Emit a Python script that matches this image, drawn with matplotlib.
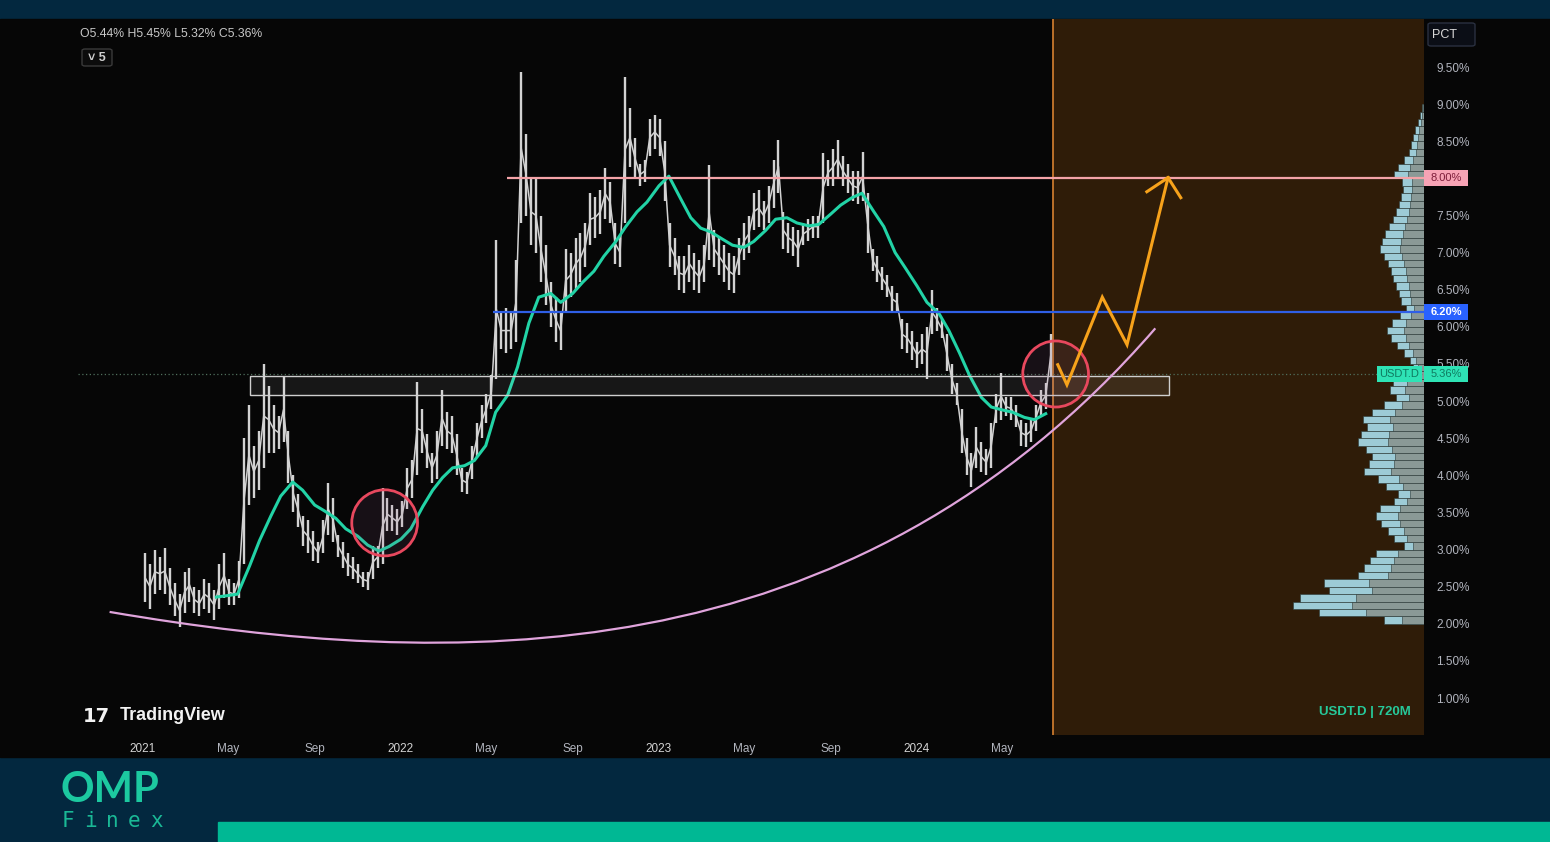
import matplotlib
matplotlib.use("Agg")
import matplotlib.pyplot as plt
import matplotlib.dates as mdates
import matplotlib.transforms as mtransforms
from matplotlib.patches import Rectangle, Ellipse, FancyBboxPatch, PathPatch
from matplotlib.path import Path
import numpy as np
import pandas as pd

plt.rcParams["font.family"] = ["Liberation Sans Narrow", "Liberation Sans", "DejaVu Sans"]

W, H = 1550, 842


def fx(x):
    return x / W


def fy(y):
    return 1 - y / H


# USDT.D weekly high / low (%), one bar per week from 2021-01-04
week_start = "2021-01-04"
week_high = [
    2.95, 2.80, 3.00, 2.90, 3.02, 2.75, 2.55, 2.40, 2.70, 2.75,
    2.50, 2.45, 2.60, 2.55, 2.45, 2.80, 2.95, 2.60, 2.55, 2.85,
    4.50, 4.95, 4.40, 4.60, 5.50, 5.20, 4.95, 4.80, 5.32, 4.60,
    4.00, 3.75, 3.45, 3.40, 3.25, 3.10, 3.40, 3.90, 3.70, 3.20,
    3.10, 2.95, 2.90, 2.80, 2.70, 2.70, 3.05, 3.05, 3.83, 3.70,
    3.60, 3.55, 3.65, 4.10, 4.20, 5.26, 4.90, 4.55, 4.30, 4.60,
    5.15, 4.85, 4.80, 4.55, 4.10, 4.05, 4.40, 4.70, 4.95, 5.10,
    5.35, 7.17, 6.20, 6.25, 6.20, 6.90, 9.43, 8.60, 8.00, 8.00,
    7.50, 7.10, 6.60, 6.40, 6.20, 7.05, 7.00, 7.20, 7.26, 7.40,
    7.80, 7.75, 7.85, 8.14, 7.95, 7.40, 7.20, 9.37, 8.95, 8.55,
    8.20, 8.25, 8.80, 8.85, 8.80, 8.50, 7.40, 7.20, 6.95, 6.95,
    7.10, 7.00, 6.90, 7.10, 8.18, 7.30, 7.20, 7.10, 7.00, 6.95,
    7.20, 7.40, 7.50, 7.80, 7.85, 7.70, 7.90, 8.25, 8.52, 7.55,
    7.40, 7.35, 7.30, 7.40, 7.45, 7.50, 7.50, 8.34, 8.25, 8.40,
    8.52, 8.30, 8.20, 8.10, 8.10, 8.35, 7.80, 7.05, 6.95, 6.80,
    6.70, 6.55, 6.45, 6.10, 6.05, 5.95, 5.80, 5.90, 6.00, 6.50,
    6.25, 6.10, 5.90, 5.50, 5.25, 4.90, 4.50, 4.30, 4.65, 4.45,
    4.35, 4.70, 5.10, 5.38, 5.05, 5.05, 4.95, 4.75, 4.70, 4.75,
    4.95, 5.15, 5.25, 5.90,
]
week_low = [
    2.30, 2.20, 2.40, 2.45, 2.40, 2.25, 2.10, 1.96, 2.15, 2.30,
    2.15, 2.10, 2.20, 2.15, 2.05, 2.20, 2.35, 2.25, 2.25, 2.35,
    2.80, 3.60, 3.70, 3.80, 4.10, 4.30, 4.30, 4.35, 4.45, 3.90,
    3.50, 3.30, 3.05, 2.95, 2.85, 2.82, 2.95, 3.20, 3.10, 2.90,
    2.75, 2.65, 2.60, 2.55, 2.50, 2.45, 2.60, 2.75, 2.80, 3.25,
    3.25, 3.20, 3.30, 3.55, 3.70, 4.00, 4.30, 4.10, 3.90, 3.95,
    4.40, 4.35, 4.30, 4.00, 3.78, 3.75, 3.95, 4.25, 4.50, 4.70,
    4.90, 5.30, 5.70, 5.65, 5.70, 5.80, 7.40, 7.50, 7.10, 7.00,
    6.60, 6.30, 6.00, 5.80, 5.69, 6.20, 6.40, 6.50, 6.60, 6.80,
    7.10, 7.20, 7.25, 7.45, 7.40, 6.85, 6.80, 7.40, 8.15, 8.00,
    7.90, 7.95, 8.30, 8.40, 8.30, 7.70, 6.80, 6.70, 6.50, 6.45,
    6.60, 6.50, 6.45, 6.60, 6.90, 6.80, 6.70, 6.60, 6.50, 6.45,
    6.70, 6.90, 7.00, 7.30, 7.35, 7.30, 7.40, 7.60, 7.80, 7.05,
    7.00, 6.95, 6.80, 7.10, 7.15, 7.20, 7.20, 7.40, 7.90, 7.90,
    8.00, 7.90, 7.80, 7.70, 7.65, 7.70, 7.00, 6.75, 6.60, 6.50,
    6.40, 6.20, 6.20, 5.70, 5.65, 5.55, 5.45, 5.50, 5.30, 5.90,
    5.95, 5.85, 5.40, 5.10, 4.95, 4.30, 4.00, 3.84, 4.10, 4.05,
    4.00, 4.10, 4.70, 4.75, 4.80, 4.75, 4.65, 4.40, 4.38, 4.45,
    4.60, 4.80, 4.90, 5.32,
]

# moving average, sampled on the 1st and 15th of each month
ma_start, ma_end = "2021-04-15", "2024-07-01"
ma_values = [
    2.36, 2.38, 2.40, 2.78, 3.12, 3.45, 3.72, 3.91, 3.80, 3.60, 3.52, 3.42,
    3.28, 3.18, 3.06, 2.98, 3.04,
    3.14, 3.28, 3.58, 3.80, 3.97, 4.10, 4.13, 4.20, 4.40, 4.85, 5.08, 5.46,
    6.05, 6.40, 6.45, 6.33, 6.45, 6.60, 6.75, 6.95, 7.15, 7.35, 7.55, 7.68,
    7.90, 8.03, 7.72, 7.47, 7.33, 7.28, 7.18, 7.10, 7.07, 7.15, 7.30, 7.45,
    7.47, 7.40, 7.36, 7.38, 7.52, 7.64, 7.74, 7.80, 7.55, 7.35, 7.00, 6.80,
    6.55, 6.33, 6.18, 5.95, 5.65, 5.35, 5.05, 4.92, 4.88, 4.85, 4.78, 4.75,
    4.83,
]

last_close = 5.36
level_top, level_top_from = 8.00, "2022-05-31"
level_mid, level_mid_from = 6.20, "2022-05-11"
close_line_from = "2020-10-01"
zone_low, zone_high = 5.08, 5.34
zone_from, zone_to = "2021-06-01", "2024-12-22"
forecast_from = "2024-07-11"
circle_dates = ["2021-12-09", "2024-07-15"]
circle_values = [3.36, 5.365]

# support curve drawn as one cubic Bezier (start, two control points, end)
arc_dates = ["2020-11-15", "2022-03-11", "2023-09-28", "2024-12-03"]
arc_values = [2.16, 1.38, 1.24, 5.98]

path_dates = ["2024-07-18", "2024-07-31", "2024-09-19", "2024-10-24", "2024-12-21"]
path_values = [5.49, 5.22, 6.40, 5.76, 8.01]
head_dates = ["2024-11-21", "2024-12-21", "2025-01-08"]
head_values = [7.82, 8.01, 7.74]

# volume profile (bar length), rows of 0.1 % from 2.0 % up
vp_levels = np.round(np.arange(2.05, 9.0, 0.1), 2)
vp_total = [40, 105, 131, 124, 95, 100, 66, 60, 54, 48,
            20, 30, 36, 43, 48, 44, 30, 26, 38, 46,
            60, 55, 52, 58, 66, 63, 57, 61, 52, 40,
            28, 34, 31, 22, 11, 14, 20, 27, 33, 37,
            32, 24, 18, 23, 25, 28, 31, 33, 36, 40,
            44, 42, 39, 35, 31, 28, 25, 23, 21, 22,
            30, 26, 20, 15, 13, 11, 9, 6, 4, 2]
vp_inner = [22, 58, 72, 68, 52, 55, 36, 33, 30, 26,
            11, 17, 20, 24, 26, 24, 17, 14, 21, 25,
            33, 30, 29, 32, 36, 35, 31, 34, 29, 22,
            15, 19, 17, 12, 6, 8, 11, 15, 18, 20,
            18, 13, 10, 13, 14, 15, 17, 18, 20, 22,
            24, 23, 21, 19, 17, 15, 14, 13, 12, 12,
            16, 14, 11, 8, 7, 6, 5, 3, 2, 1]

x_tick_dates = ["2021-01-01", "2021-05-01", "2021-09-01", "2022-01-01", "2022-05-01",
                "2022-09-01", "2023-01-01", "2023-05-01", "2023-09-01", "2024-01-01",
                "2024-05-01"]
x_tick_labels = ["2021", "May", "Sep", "2022", "May", "Sep", "2023", "May", "Sep",
                 "2024", "May"]
y_ticks = np.arange(1.0, 9.51, 0.5)

weeks = pd.date_range(week_start, periods=len(week_high), freq="7D")
ma_dates = pd.date_range(ma_start, ma_end, freq="SMS")
week_mid = (np.array(week_high) + np.array(week_low)) / 2

x_left = pd.Timestamp("2021-01-01") - pd.Timedelta(days=202)
x_right = pd.Timestamp("2021-01-01") + pd.Timedelta(days=1812)
y_lo, y_hi = 0.502, 10.147

fig = plt.figure(figsize=(W / 100, H / 100), dpi=100, facecolor="#03283f")
fig.patches.append(Rectangle((0, fy(757)), 1, (757 - 19) / H, transform=fig.transFigure,
                             color="#060606", zorder=-5))
fig.patches.append(Rectangle((fx(218), 0), 1 - fx(218), 20 / H, transform=fig.transFigure,
                             color="#00b894", zorder=-5))

pos = [0, fy(735), fx(1424), (735 - 19) / H]
ax = fig.add_axes(pos, zorder=3)
ax_bg = fig.add_axes(pos, zorder=1, sharex=ax, sharey=ax)
ax_vp = fig.add_axes(pos, zorder=2, sharey=ax)

# background layer: forecast area
ax_bg.axvspan(pd.Timestamp(forecast_from), x_right, color="#2f1c08", lw=0)
ax_bg.axvline(pd.Timestamp(forecast_from), color="#c8782c", lw=1.3)
ax_bg.axis("off")

# volume profile layer
ax_vp.barh(vp_levels, vp_total, height=0.1, color="#9dcbd6", edgecolor="#2a3836", lw=0.4)
ax_vp.barh(vp_levels, vp_inner, height=0.1, color="#8a9996", edgecolor="#2a3836", lw=0.4)
ax_vp.set_xlim(1424, 0)
ax_vp.axis("off")

# main layer
ax.patch.set_visible(False)
for s in ax.spines.values():
    s.set_visible(False)

ax.vlines(weeks, week_low, week_high, color="#d2d2d2", lw=1.7, zorder=3)
ax.plot(weeks, week_mid, color="#d2d2d2", lw=1.1, zorder=3)
ax.plot(ma_dates, ma_values, color="#22d3a6", lw=2.2, zorder=4)

ax.hlines(level_top, pd.Timestamp(level_top_from), x_right, color="#f4a3a8", lw=1.6, zorder=4)
ax.hlines(level_mid, pd.Timestamp(level_mid_from), x_right, color="#2f5fe6", lw=1.6, zorder=4)
ax.hlines(last_close, pd.Timestamp(close_line_from), x_right, color="#4f6f5c", lw=0.9,
          linestyles=(0, (1, 2)), zorder=2)

z0 = mdates.date2num(pd.Timestamp(zone_from))
z1 = mdates.date2num(pd.Timestamp(zone_to))
ax.add_patch(Rectangle((z0, zone_low), z1 - z0, zone_high - zone_low,
                       facecolor=(1, 1, 1, 0.07), edgecolor="#cfcfcf", lw=1.0, zorder=5))

for d, v in zip(circle_dates, circle_values):
    ax.add_patch(Ellipse((mdates.date2num(pd.Timestamp(d)), v), width=93, height=0.89,
                         facecolor=(0.6, 0.35, 0.55, 0.12), edgecolor="#e8485e", lw=2.0,
                         zorder=6))

arc_x = mdates.date2num(pd.to_datetime(arc_dates))
arc_path = Path(np.column_stack([arc_x, arc_values]),
                [Path.MOVETO, Path.CURVE4, Path.CURVE4, Path.CURVE4])
ax.add_patch(PathPatch(arc_path, facecolor="none", edgecolor="#e0a4dc", lw=1.6, zorder=5))

ax.plot(pd.to_datetime(path_dates), path_values, color="#f7a21b", lw=2.2, zorder=7,
        solid_joinstyle="miter")
ax.plot(pd.to_datetime(head_dates), head_values, color="#f7a21b", lw=2.2, zorder=7,
        solid_joinstyle="miter")

ax.set_xlim(x_left, x_right)
ax.set_ylim(y_lo, y_hi)

ax.yaxis.tick_right()
ax.set_yticks(y_ticks)
ax.set_yticklabels(["" if abs(v - level_top) < 1e-6 else f"{v:.2f}%" for v in y_ticks])
ax.tick_params(axis="y", length=0, pad=9, labelsize=8.5, labelcolor="#b2b5be")
ax.set_xticks(pd.to_datetime(x_tick_dates))
ax.set_xticklabels(x_tick_labels)
ax.tick_params(axis="x", length=0, pad=6, labelsize=8.5, labelcolor="#b2b5be")
for lab in ax.get_xticklabels():
    if lab.get_text().isdigit():
        lab.set_color("#d4d4d4")

# price tags on the right scale
trans = mtransforms.blended_transform_factory(ax.transAxes, ax.transData)
half = 8 / 74.24


def tag(x0, x1, value, text, fc, tc, bold=False):
    ax.add_patch(Rectangle((x0 / 1424, value - half), (x1 - x0) / 1424, 2 * half,
                           transform=trans, facecolor=fc, lw=0, clip_on=False, zorder=8))
    ax.text((x0 + x1) / 2 / 1424, value, text, transform=trans, ha="center", va="center",
            fontsize=8, color=tc, fontweight="bold" if bold else "normal", zorder=9,
            clip_on=False)


tag(1424, 1468, level_top, f"{level_top:.2f}%", "#f7a3b5", "#7d1d3a")
tag(1424, 1468, level_mid, f"{level_mid:.2f}%", "#2962ff", "#ffffff", bold=True)
tag(1424, 1468, last_close, f"{last_close:.2f}%", "#2ee3b5", "#0f7a60")
tag(1377, 1422, last_close, "USDT.D", "#2ee3b5", "#0f7a60")

# header texts
fig.text(fx(80), fy(34), "O5.44% H5.45% L5.32% C5.36%", fontsize=8.8, color="#c8c8c8",
         va="center")
fig.patches.append(FancyBboxPatch((fx(82), fy(66)), fx(30), 17 / H,
                                  boxstyle="round,pad=0,rounding_size=0.002",
                                  transform=fig.transFigure, facecolor="#0c0c0c",
                                  edgecolor="#3a3a3a", lw=1))
fig.text(fx(97), fy(58), "˅ 5", fontsize=9, color="#d0d0d0", ha="center", va="center",
         fontweight="bold")
fig.patches.append(FancyBboxPatch((fx(1428), fy(46)), fx(47), 23 / H,
                                  boxstyle="round,pad=0,rounding_size=0.002",
                                  transform=fig.transFigure, facecolor="#0b0e16",
                                  edgecolor="#2a3040", lw=1))
fig.text(fx(1432), fy(35), "PCT", fontsize=9, color="#d8d8d8", va="center")

fig.text(fx(1411), fy(712), "USDT.D | 720M", fontsize=9.5, color="#26c99a", ha="right",
         va="center", fontweight="bold")

fig.text(fx(83), fy(716), "17", fontsize=14, color="#f2f2f2", va="center",
         fontweight="heavy", family="DejaVu Sans")
fig.text(fx(120), fy(716), "TradingView", fontsize=13, color="#f2f2f2", va="center",
         fontweight="bold", family="Liberation Sans")

# brand
fig.text(fx(61), fy(790), "OMP", fontsize=30, color="#1cc9a0", va="center",
         fontweight="bold", family="Lato")
for i, ch in enumerate("Finex"):
    fig.text(fx(62 + 22 * i), fy(821), ch, fontsize=15, color="#1ab996", va="center",
             family="DejaVu Sans Mono", fontweight="light")

fig.savefig("out.png", dpi=100, facecolor=fig.get_facecolor())
